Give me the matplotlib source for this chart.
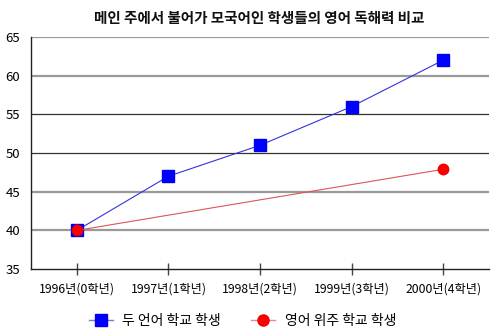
import matplotlib
matplotlib.use("Agg")
import matplotlib.pyplot as plt
from matplotlib.lines import Line2D

plt.rcParams['font.family'] = ['Noto Sans CJK KR', 'DejaVu Sans']

categories = ['1996년(0학년)', '1997년(1학년)', '1998년(2학년)', '1999년(3학년)', '2000년(4학년)']
bilingual = [40, 47, 51, 56, 62]
english_idx = [0, 4]
english = [40, 47.9]
yticks = [35, 40, 45, 50, 55, 60, 65]
title = '메인 주에서 불어가 모국어인 학생들의 영어 독해력 비교'
label_bi = '두 언어 학교 학생'
label_en = '영어 위주 학교 학생'

fig = plt.figure(figsize=(5, 3.36), dpi=100)
ax = fig.add_axes([0.062, 0.199, 0.916, 0.691])

for y in yticks[1:]:
    if y in (50, 55):
        ax.axhline(y, color='#333333', lw=0.9, zorder=1)
    else:
        ax.axhline(y, color='#999999', lw=1.6, zorder=1)

x = list(range(len(categories)))
ax.plot(x, bilingual, color='#3333dd', lw=0.8, marker='s', markersize=8,
        markerfacecolor='#0000ff', markeredgecolor='#0000ee', zorder=3)
ax.plot(english_idx, english, color='#dd5555', lw=0.8, marker='o', markersize=7.5,
        markerfacecolor='#ff0000', markeredgecolor='#ee0000', zorder=4)

ax.set_xlim(-0.5, 4.5)
ax.set_ylim(35, 65)
ax.set_yticks(yticks)
ax.set_yticklabels([str(v) for v in yticks], fontsize=9.5)
ax.set_xticks(x)
ax.set_xticklabels(categories, fontsize=8.8)
ax.tick_params(axis='y', length=0, pad=8)
ax.tick_params(axis='x', direction='inout', length=8, width=1, color='#444444', pad=6)
for s in ['top', 'right']:
    ax.spines[s].set_visible(False)
ax.spines['left'].set_color('#222222')
ax.spines['bottom'].set_color('#222222')
ax.spines['left'].set_linewidth(1)
ax.spines['bottom'].set_linewidth(1)

fig.text(0.518, 0.945, title, ha='center', va='center', fontsize=10.5, fontweight='bold',
         color='#111111')

handles = [
    Line2D([], [], color='#7777dd', lw=1, marker='s', markersize=8,
           markerfacecolor='#0000ff', markeredgecolor='#0000ee'),
    Line2D([], [], color='#ee8888', lw=1, marker='o', markersize=8,
           markerfacecolor='#ff0000', markeredgecolor='#ee0000'),
]
fig.legend(handles, [label_bi, label_en], loc='center', bbox_to_anchor=(0.485, 0.045),
           ncol=2, frameon=False, fontsize=10, handlelength=1.7, handletextpad=0.7,
           columnspacing=2.2)

fig.savefig('out.png', dpi=100)
